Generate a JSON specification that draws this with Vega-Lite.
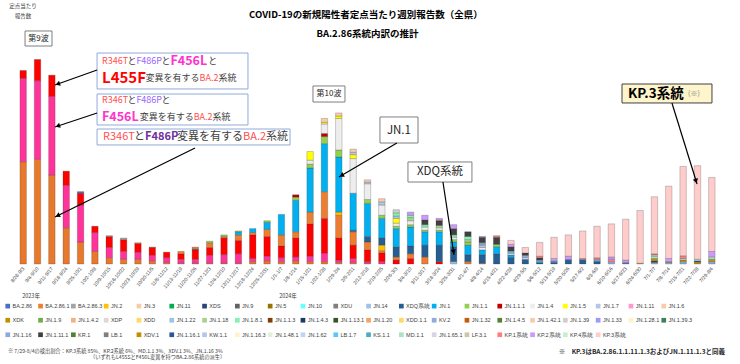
{
"$schema": "https://vega.github.io/schema/vega-lite/v6.json",
"autosize": {"type": "none"},
"padding": {"left": 16, "top": 28, "right": 21, "bottom": 100},
"width": 703,
"height": 236,
"background": "white",
"config": {"view": {"stroke": null}, "font": "Noto Sans CJK JP"},
"datasets": {
"lineages": [
{"l":"R346T+F486P","r":0},{"l":"R346T+F486P+F456L","r":1},{"l":"R346T+F486P+F456L+L455F","r":2},
{"l":"BA.2.86","r":3},{"l":"BA.2.86.1","r":4},{"l":"BA.2.86.3","r":5},{"l":"JN.2","r":6},{"l":"JN.3","r":7},{"l":"JN.11","r":8},{"l":"XDS","r":9},{"l":"JN.9","r":10},{"l":"JN.5","r":11},{"l":"JN.10","r":12},{"l":"XDU","r":13},{"l":"JN.14","r":14},{"l":"XDQ系統","r":15},{"l":"JN.1","r":16},{"l":"JN.1.1","r":17},{"l":"JN.1.1.1","r":18},{"l":"JN.1.4","r":19},{"l":"JN.1.5","r":20},{"l":"JN.1.7","r":21},{"l":"JN.1.11","r":22},{"l":"JN.1.6","r":23},
{"l":"XDK","r":24},{"l":"JN.1.9","r":25},{"l":"JN.1.4.2","r":26},{"l":"XDP","r":27},{"l":"XDD","r":28},{"l":"JN.1.22","r":29},{"l":"JN.1.18","r":30},{"l":"JN.1.8.1","r":31},{"l":"JN.1.1.3","r":32},{"l":"JN.1.4.3","r":33},{"l":"JN.1.13.1","r":34},{"l":"JN.1.20","r":35},{"l":"XDD.1.1","r":36},{"l":"KV.2","r":37},{"l":"JN.1.32","r":38},{"l":"JN.1.4.5","r":39},{"l":"JN.1.42.1","r":40},{"l":"JN.1.39","r":41},{"l":"JN.1.33","r":42},{"l":"JN.1.28.1","r":43},{"l":"JN.1.39.3","r":44},
{"l":"JN.1.16","r":45},{"l":"JN.1.11.1","r":46},{"l":"KR.1","r":47},{"l":"LB.1","r":48},{"l":"XDV.1","r":49},{"l":"JN.1.16.1","r":50},{"l":"KW.1.1","r":51},{"l":"JN.1.16.3","r":52},{"l":"JN.1.48.1","r":53},{"l":"JN.1.62","r":54},{"l":"LB.1.7","r":55},{"l":"KS.1.1","r":56},{"l":"MD.1.1","r":57},{"l":"JN.1.65.1","r":58},{"l":"LF.3.1","r":59},{"l":"KP.1系統","r":60},{"l":"KP.2系統","r":61},{"l":"KP.4系統","r":62},{"l":"KP.3系統","r":63}
],
"weekly": [
{"w":"8/28-9/3","l":"R346T+F486P","v":13.0},{"w":"8/28-9/3","l":"R346T+F486P+F456L","v":10.6},{"w":"8/28-9/3","l":"R346T+F486P+F456L+L455F","v":1.0},
{"w":"9/4-9/10","l":"R346T+F486P","v":13.3},{"w":"9/4-9/10","l":"R346T+F486P+F456L","v":10.0},{"w":"9/4-9/10","l":"R346T+F486P+F456L+L455F","v":2.7},
{"w":"9/11-9/17","l":"R346T+F486P","v":11.3},{"w":"9/11-9/17","l":"R346T+F486P+F456L","v":10.0},{"w":"9/11-9/17","l":"R346T+F486P+F456L+L455F","v":2.7},
{"w":"9/18-9/24","l":"R346T+F486P","v":4.6},{"w":"9/18-9/24","l":"R346T+F486P+F456L","v":5.4},{"w":"9/18-9/24","l":"R346T+F486P+F456L+L455F","v":1.8},
{"w":"9/25-10/1","l":"R346T+F486P","v":2.8},{"w":"9/25-10/1","l":"R346T+F486P+F456L","v":4.7},{"w":"9/25-10/1","l":"R346T+F486P+F456L+L455F","v":1.5},{"w":"9/25-10/1","l":"BA.2.86","v":0.2},
{"w":"10/2-10/8","l":"R346T+F486P","v":1.6},{"w":"10/2-10/8","l":"R346T+F486P+F456L","v":2.4},{"w":"10/2-10/8","l":"R346T+F486P+F456L+L455F","v":0.8},
{"w":"10/9-10/15","l":"R346T+F486P","v":0.8},{"w":"10/9-10/15","l":"R346T+F486P+F456L","v":1.3},{"w":"10/9-10/15","l":"R346T+F486P+F456L+L455F","v":1.4},{"w":"10/9-10/15","l":"BA.2.86.3","v":0.1},
{"w":"10/16-10/22","l":"R346T+F486P","v":0.6},{"w":"10/16-10/22","l":"R346T+F486P+F456L","v":1.0},{"w":"10/16-10/22","l":"R346T+F486P+F456L+L455F","v":1.5},{"w":"10/16-10/22","l":"BA.2.86.3","v":0.2},
{"w":"10/23-10/29","l":"R346T+F486P","v":0.6},{"w":"10/23-10/29","l":"R346T+F486P+F456L","v":0.9},{"w":"10/23-10/29","l":"R346T+F486P+F456L+L455F","v":1.1},{"w":"10/23-10/29","l":"BA.2.86.1","v":0.1},
{"w":"10/30-11/5","l":"R346T+F486P","v":0.4},{"w":"10/30-11/5","l":"R346T+F486P+F456L","v":0.7},{"w":"10/30-11/5","l":"R346T+F486P+F456L+L455F","v":1.0},{"w":"10/30-11/5","l":"BA.2.86.1","v":0.05},
{"w":"11/6-11/12","l":"R346T+F486P","v":0.2},{"w":"11/6-11/12","l":"R346T+F486P+F456L","v":0.6},{"w":"11/6-11/12","l":"R346T+F486P+F456L+L455F","v":0.7},
{"w":"11/13-11/19","l":"R346T+F486P","v":0.1},{"w":"11/13-11/19","l":"R346T+F486P+F456L","v":0.5},{"w":"11/13-11/19","l":"R346T+F486P+F456L+L455F","v":0.7},{"w":"11/13-11/19","l":"BA.2.86.1","v":0.3},
{"w":"11/20-11/26","l":"R346T+F486P","v":0.1},{"w":"11/20-11/26","l":"R346T+F486P+F456L","v":0.5},{"w":"11/20-11/26","l":"R346T+F486P+F456L+L455F","v":1.2},{"w":"11/20-11/26","l":"BA.2.86","v":0.1},{"w":"11/20-11/26","l":"BA.2.86.1","v":0.25},
{"w":"11/27-12/3","l":"R346T+F486P","v":0.1},{"w":"11/27-12/3","l":"R346T+F486P+F456L","v":1.0},{"w":"11/27-12/3","l":"R346T+F486P+F456L+L455F","v":1.0},{"w":"11/27-12/3","l":"BA.2.86.1","v":0.6},{"w":"11/27-12/3","l":"JN.1.1","v":0.2},
{"w":"12/4-12/10","l":"R346T+F486P","v":0.1},{"w":"12/4-12/10","l":"R346T+F486P+F456L","v":1.1},{"w":"12/4-12/10","l":"R346T+F486P+F456L+L455F","v":2.1},{"w":"12/4-12/10","l":"BA.2.86.1","v":0.2},{"w":"12/4-12/10","l":"JN.1.1","v":0.2},
{"w":"12/11-12/17","l":"R346T+F486P","v":0.1},{"w":"12/11-12/17","l":"R346T+F486P+F456L","v":1.2},{"w":"12/11-12/17","l":"R346T+F486P+F456L+L455F","v":1.7},{"w":"12/11-12/17","l":"BA.2.86.1","v":0.7},{"w":"12/11-12/17","l":"JN.1","v":0.4},{"w":"12/11-12/17","l":"JN.1.1","v":0.1},
{"w":"12/18-12/24","l":"R346T+F486P","v":0.3},{"w":"12/18-12/24","l":"R346T+F486P+F456L","v":0.4},{"w":"12/18-12/24","l":"R346T+F486P+F456L+L455F","v":3.0},{"w":"12/18-12/24","l":"BA.2.86.1","v":0.3},{"w":"12/18-12/24","l":"JN.1","v":0.5},
{"w":"12/25-12/31","l":"R346T+F486P","v":0.4},{"w":"12/25-12/31","l":"R346T+F486P+F456L","v":0.6},{"w":"12/25-12/31","l":"R346T+F486P+F456L+L455F","v":2.5},{"w":"12/25-12/31","l":"BA.2.86.1","v":0.9},{"w":"12/25-12/31","l":"JN.1","v":0.9},{"w":"12/25-12/31","l":"JN.1.1","v":0.2},
{"w":"1/1-1/7","l":"R346T+F486P","v":0.3},{"w":"1/1-1/7","l":"R346T+F486P+F456L","v":0.5},{"w":"1/1-1/7","l":"R346T+F486P+F456L+L455F","v":1.5},{"w":"1/1-1/7","l":"BA.2.86.1","v":1.4},{"w":"1/1-1/7","l":"JN.1","v":2.6},
{"w":"1/8-1/14","l":"R346T+F486P","v":0.4},{"w":"1/8-1/14","l":"R346T+F486P+F456L","v":0.5},{"w":"1/8-1/14","l":"R346T+F486P+F456L+L455F","v":2.4},{"w":"1/8-1/14","l":"BA.2.86.1","v":0.8},{"w":"1/8-1/14","l":"JN.1","v":4.0},{"w":"1/8-1/14","l":"JN.1.1","v":0.4},{"w":"1/8-1/14","l":"JN.1.1.1","v":0.3},
{"w":"1/15-1/21","l":"R346T+F486P","v":0.3},{"w":"1/15-1/21","l":"R346T+F486P+F456L","v":0.7},{"w":"1/15-1/21","l":"R346T+F486P+F456L+L455F","v":4.1},{"w":"1/15-1/21","l":"BA.2.86.1","v":1.5},{"w":"1/15-1/21","l":"JN.1","v":5.6},{"w":"1/15-1/21","l":"JN.1.1","v":0.5},{"w":"1/15-1/21","l":"JN.1.4","v":0.5},{"w":"1/15-1/21","l":"JN.1.5","v":1.1},
{"w":"1/22-1/28","l":"R346T+F486P","v":0.3},{"w":"1/22-1/28","l":"R346T+F486P+F456L","v":1.1},{"w":"1/22-1/28","l":"R346T+F486P+F456L+L455F","v":4.4},{"w":"1/22-1/28","l":"BA.2.86.1","v":3.4},{"w":"1/22-1/28","l":"JN.1","v":6.1},{"w":"1/22-1/28","l":"JN.1.1","v":0.9},{"w":"1/22-1/28","l":"JN.1.1.1","v":0.4},{"w":"1/22-1/28","l":"JN.1.4","v":1.2},{"w":"1/22-1/28","l":"JN.1.5","v":0.2},{"w":"1/22-1/28","l":"JN.1.6","v":0.5},
{"w":"1/29-2/4","l":"R346T+F486P","v":0.2},{"w":"1/29-2/4","l":"R346T+F486P+F456L","v":0.3},{"w":"1/29-2/4","l":"R346T+F486P+F456L+L455F","v":2.8},{"w":"1/29-2/4","l":"BA.2.86.1","v":2.9},{"w":"1/29-2/4","l":"JN.2","v":0.4},{"w":"1/29-2/4","l":"JN.1","v":7.0},{"w":"1/29-2/4","l":"JN.1.1","v":0.9},{"w":"1/29-2/4","l":"JN.1.4","v":4.0},{"w":"1/29-2/4","l":"JN.1.5","v":0.3},{"w":"1/29-2/4","l":"JN.1.6","v":0.4},
{"w":"2/5-2/11","l":"R346T+F486P","v":0.2},{"w":"2/5-2/11","l":"R346T+F486P+F456L","v":0.5},{"w":"2/5-2/11","l":"R346T+F486P+F456L+L455F","v":1.7},{"w":"2/5-2/11","l":"BA.2.86.1","v":1.7},{"w":"2/5-2/11","l":"XDQ系統","v":0.2},{"w":"2/5-2/11","l":"JN.1","v":4.7},{"w":"2/5-2/11","l":"JN.1.4","v":4.4},{"w":"2/5-2/11","l":"JN.1.5","v":0.5},{"w":"2/5-2/11","l":"JN.1.7","v":0.3},{"w":"2/5-2/11","l":"JN.1.6","v":0.4},
{"w":"2/12-2/18","l":"R346T+F486P","v":0.1},{"w":"2/12-2/18","l":"R346T+F486P+F456L","v":0.2},{"w":"2/12-2/18","l":"R346T+F486P+F456L+L455F","v":1.5},{"w":"2/12-2/18","l":"BA.2.86.1","v":1.0},{"w":"2/12-2/18","l":"XDQ系統","v":0.7},{"w":"2/12-2/18","l":"JN.1","v":4.2},{"w":"2/12-2/18","l":"JN.1.1","v":0.5},{"w":"2/12-2/18","l":"JN.1.4","v":2.0},{"w":"2/12-2/18","l":"JN.1.7","v":0.2},{"w":"2/12-2/18","l":"JN.1.6","v":0.3},
{"w":"2/19-2/25","l":"R346T+F486P+F456L","v":0.3},{"w":"2/19-2/25","l":"R346T+F486P+F456L+L455F","v":1.1},{"w":"2/19-2/25","l":"BA.2.86.1","v":0.3},{"w":"2/19-2/25","l":"JN.2","v":0.7},{"w":"2/19-2/25","l":"XDQ系統","v":0.9},{"w":"2/19-2/25","l":"JN.1","v":2.5},{"w":"2/19-2/25","l":"JN.1.1","v":0.4},{"w":"2/19-2/25","l":"JN.1.4","v":1.3},{"w":"2/19-2/25","l":"JN.1.7","v":0.4},{"w":"2/19-2/25","l":"JN.1.6","v":0.4},
{"w":"2/26-3/3","l":"R346T+F486P+F456L+L455F","v":0.5},{"w":"2/26-3/3","l":"BA.2.86.1","v":0.4},{"w":"2/26-3/3","l":"XDQ系統","v":1.3},{"w":"2/26-3/3","l":"JN.1","v":2.3},{"w":"2/26-3/3","l":"JN.1.1","v":0.3},{"w":"2/26-3/3","l":"JN.1.4","v":0.4},{"w":"2/26-3/3","l":"JN.1.5","v":0.6},{"w":"2/26-3/3","l":"JN.1.7","v":0.3},{"w":"2/26-3/3","l":"JN.1.8.1","v":0.4},{"w":"2/26-3/3","l":"JN.1.39","v":0.4},
{"w":"3/4-3/10","l":"R346T+F486P+F456L+L455F","v":0.7},{"w":"3/4-3/10","l":"BA.2.86.1","v":0.6},{"w":"3/4-3/10","l":"XDQ系統","v":1.0},{"w":"3/4-3/10","l":"JN.1","v":2.4},{"w":"3/4-3/10","l":"JN.1.1","v":0.3},{"w":"3/4-3/10","l":"JN.1.4","v":0.5},{"w":"3/4-3/10","l":"JN.1.18","v":0.4},{"w":"3/4-3/10","l":"JN.1.8.1","v":0.3},{"w":"3/4-3/10","l":"KP.2系統","v":0.4},
{"w":"3/11-3/17","l":"BA.2.86.1","v":0.9},{"w":"3/11-3/17","l":"XDQ系統","v":1.5},{"w":"3/11-3/17","l":"JN.1","v":1.7},{"w":"3/11-3/17","l":"JN.1.1","v":0.2},{"w":"3/11-3/17","l":"JN.1.4","v":0.4},{"w":"3/11-3/17","l":"JN.1.8.1","v":0.3},{"w":"3/11-3/17","l":"JN.1.11.1","v":0.6},{"w":"3/11-3/17","l":"KP.2系統","v":0.6},
{"w":"3/18-3/24","l":"R346T+F486P+F456L+L455F","v":0.3},{"w":"3/18-3/24","l":"XDQ系統","v":2.1},{"w":"3/18-3/24","l":"JN.1","v":1.7},{"w":"3/18-3/24","l":"JN.1.1","v":0.2},{"w":"3/18-3/24","l":"JN.1.4","v":0.3},{"w":"3/18-3/24","l":"JN.1.18","v":0.3},{"w":"3/18-3/24","l":"JN.1.11.1","v":0.6},{"w":"3/18-3/24","l":"KP.1系統","v":0.1},{"w":"3/18-3/24","l":"KP.2系統","v":0.2},
{"w":"3/25-3/31","l":"JN.14","v":0.3},{"w":"3/25-3/31","l":"XDQ系統","v":1.9},{"w":"3/25-3/31","l":"JN.1","v":0.6},{"w":"3/25-3/31","l":"JN.1.1","v":0.3},{"w":"3/25-3/31","l":"JN.1.4","v":0.3},{"w":"3/25-3/31","l":"JN.1.8.1","v":0.3},{"w":"3/25-3/31","l":"JN.1.11.1","v":0.8},{"w":"3/25-3/31","l":"KP.2系統","v":0.5},
{"w":"4/1-4/7","l":"BA.2.86.1","v":0.3},{"w":"4/1-4/7","l":"XDQ系統","v":0.9},{"w":"4/1-4/7","l":"JN.1","v":1.2},{"w":"4/1-4/7","l":"JN.1.1","v":0.4},{"w":"4/1-4/7","l":"JN.1.18","v":0.3},{"w":"4/1-4/7","l":"JN.1.8.1","v":0.4},{"w":"4/1-4/7","l":"JN.1.11.1","v":0.6},
{"w":"4/8-4/14","l":"BA.2.86.1","v":0.1},{"w":"4/8-4/14","l":"XDQ系統","v":1.1},{"w":"4/8-4/14","l":"JN.1","v":0.6},{"w":"4/8-4/14","l":"JN.1.4","v":0.3},{"w":"4/8-4/14","l":"JN.1.7","v":0.3},{"w":"4/8-4/14","l":"JN.1.16","v":0.3},{"w":"4/8-4/14","l":"JN.1.11.1","v":0.7},{"w":"4/8-4/14","l":"KP.2系統","v":0.1},
{"w":"4/15-4/21","l":"XDQ系統","v":1.3},{"w":"4/15-4/21","l":"JN.1","v":0.9},{"w":"4/15-4/21","l":"JN.1.1","v":0.3},{"w":"4/15-4/21","l":"JN.1.11.1","v":0.9},{"w":"4/15-4/21","l":"KP.1系統","v":0.2},
{"w":"4/22-4/28","l":"XDQ系統","v":0.85},{"w":"4/22-4/28","l":"JN.1","v":0.3},{"w":"4/22-4/28","l":"JN.1.4","v":0.2},{"w":"4/22-4/28","l":"JN.1.16","v":0.3},{"w":"4/22-4/28","l":"JN.1.11.1","v":0.55},{"w":"4/22-4/28","l":"KP.2系統","v":0.3},{"w":"4/22-4/28","l":"KP.3系統","v":0.5},
{"w":"4/29-5/5","l":"XDQ系統","v":0.6},{"w":"4/29-5/5","l":"JN.1.4","v":0.2},{"w":"4/29-5/5","l":"JN.1.16","v":0.3},{"w":"4/29-5/5","l":"JN.1.11.1","v":0.3},{"w":"4/29-5/5","l":"KP.3系統","v":0.7},
{"w":"5/6-5/12","l":"XDQ系統","v":0.15},{"w":"5/6-5/12","l":"JN.1","v":0.15},{"w":"5/6-5/12","l":"JN.1.16","v":0.2},{"w":"5/6-5/12","l":"JN.1.11.1","v":0.3},{"w":"5/6-5/12","l":"KP.1系統","v":0.2},{"w":"5/6-5/12","l":"KP.3系統","v":1.75},
{"w":"5/13-5/19","l":"XDQ系統","v":0.2},{"w":"5/13-5/19","l":"JN.1","v":0.1},{"w":"5/13-5/19","l":"JN.1.16","v":0.1},{"w":"5/13-5/19","l":"KP.2系統","v":0.3},{"w":"5/13-5/19","l":"KP.3系統","v":2.7},
{"w":"5/20-5/26","l":"XDQ系統","v":0.5},{"w":"5/20-5/26","l":"JN.1.16","v":0.1},{"w":"5/20-5/26","l":"KP.2系統","v":0.4},{"w":"5/20-5/26","l":"KP.3系統","v":2.7},
{"w":"5/27-6/2","l":"XDQ系統","v":0.5},{"w":"5/27-6/2","l":"JN.1.16","v":0.1},{"w":"5/27-6/2","l":"KP.1系統","v":0.1},{"w":"5/27-6/2","l":"KP.3系統","v":3.5},
{"w":"6/3-6/9","l":"XDQ系統","v":0.3},{"w":"6/3-6/9","l":"JN.1","v":0.1},{"w":"6/3-6/9","l":"JN.1.16","v":0.2},{"w":"6/3-6/9","l":"KP.1系統","v":0.2},{"w":"6/3-6/9","l":"KP.3系統","v":4.0},
{"w":"6/10-6/16","l":"JN.1.16","v":0.3},{"w":"6/10-6/16","l":"KP.1系統","v":0.3},{"w":"6/10-6/16","l":"KP.2系統","v":0.3},{"w":"6/10-6/16","l":"KP.3系統","v":4.2},
{"w":"6/17-6/23","l":"XDQ系統","v":0.1},{"w":"6/17-6/23","l":"JN.1.16","v":0.1},{"w":"6/17-6/23","l":"KP.2系統","v":0.3},{"w":"6/17-6/23","l":"KP.3系統","v":5.2},
{"w":"6/24-6/30","l":"XDV.1","v":0.1},{"w":"6/24-6/30","l":"KP.3系統","v":6.7},
{"w":"7/1-7/7","l":"JN.1.16","v":0.2},{"w":"7/1-7/7","l":"JN.1.11.1","v":0.2},{"w":"7/1-7/7","l":"XDV.1","v":0.3},{"w":"7/1-7/7","l":"MD.1.1","v":0.3},{"w":"7/1-7/7","l":"LF.3.1","v":0.2},{"w":"7/1-7/7","l":"KP.1系統","v":0.1},{"w":"7/1-7/7","l":"KP.3系統","v":7.25},
{"w":"7/8-7/14","l":"JN.1.16","v":0.2},{"w":"7/8-7/14","l":"XDV.1","v":0.1},{"w":"7/8-7/14","l":"KP.2系統","v":0.4},{"w":"7/8-7/14","l":"KP.3系統","v":9.2},
{"w":"7/15-7/21","l":"JN.1.16","v":0.3},{"w":"7/15-7/21","l":"XDV.1","v":0.2},{"w":"7/15-7/21","l":"MD.1.1","v":0.2},{"w":"7/15-7/21","l":"KP.1系統","v":0.35},{"w":"7/15-7/21","l":"KP.3系統","v":11.35},
{"w":"7/22-7/28","l":"JN.1.16.1","v":0.2},{"w":"7/22-7/28","l":"XDV.1","v":0.2},{"w":"7/22-7/28","l":"MD.1.1","v":0.2},{"w":"7/22-7/28","l":"KP.3系統","v":11.9},
{"w":"7/29-8/4","l":"JN.1.16","v":0.3},{"w":"7/29-8/4","l":"XDV.1","v":0.3},{"w":"7/29-8/4","l":"MD.1.1","v":0.3},{"w":"7/29-8/4","l":"KP.2系統","v":0.7},{"w":"7/29-8/4","l":"KP.3系統","v":9.4}
]
},
"layer": [
{
"data": {"name": "weekly"},
"transform": [{"lookup": "l", "from": {"data": {"name": "lineages"}, "key": "l", "fields": ["r"]}}],
"mark": {"type": "bar", "stroke": "#333333", "strokeWidth": 0.4, "strokeOpacity": 0.6},
"encoding": {
"x": {"field": "w", "type": "nominal", "sort": null, "scale": {"paddingInner": 0.55, "paddingOuter": 0.275},
"axis": {"title": null, "labelAngle": -50, "labelFontSize": 5, "labelFont": "Liberation Sans", "labelColor": "#404040", "ticks": false, "domain": false, "labelPadding": 3}},
"y": {"field": "v", "type": "quantitative", "stack": "zero", "scale": {"domain": [0, 30], "nice": false},
"axis": {"title": null, "values": [0,5,10,15,20,25,30], "grid": true, "gridColor": "#D9D9D9", "gridWidth": 0.8, "domain": false, "ticks": false, "labelFontSize": 7, "labelFont": "Liberation Sans", "labelColor": "#404040", "labelPadding": 4}},
"order": {"field": "r", "type": "quantitative", "sort": "ascending"},
"color": {"field": "l", "type": "nominal",
"scale": {
"domain": ["R346T+F486P","R346T+F486P+F456L","R346T+F486P+F456L+L455F","BA.2.86","BA.2.86.1","BA.2.86.3","JN.2","JN.3","JN.11","XDS","JN.9","JN.5","JN.10","XDU","JN.14","XDQ系統","JN.1","JN.1.1","JN.1.1.1","JN.1.4","JN.1.5","JN.1.7","JN.1.11","JN.1.6","XDK","JN.1.9","JN.1.4.2","XDP","XDD","JN.1.22","JN.1.18","JN.1.8.1","JN.1.1.3","JN.1.4.3","JN.1.13.1","JN.1.20","XDD.1.1","KV.2","JN.1.32","JN.1.4.5","JN.1.42.1","JN.1.39","JN.1.33","JN.1.28.1","JN.1.39.3","JN.1.16","JN.1.11.1","KR.1","LB.1","XDV.1","JN.1.16.1","KW.1.1","JN.1.16.3","JN.1.48.1","JN.1.62","LB.1.7","KS.1.1","MD.1.1","JN.1.65.1","LF.3.1","KP.1系統","KP.2系統","KP.4系統","KP.3系統"],
"range": ["#E8782C","#FF3399","#FF0000","#4472C4","#ED7D31","#A5A5A5","#FFC000","#F8CBAD","#00B050","#264478","#636363","#997300","#66FFFF","#7F7F7F","#9DC3E6","#255E91","#00B0F0","#92D050","#C00000","#EDEDED","#FFFF00","#B4C7E7","#FF99CC","#F8CBAD","#BF9000","#70AD47","#F4B183","#D9D9D9","#FFD966","#9DC3E6","#A9D18E","#7FF5B0","#843C0C","#1F3864","#375623","#F4A460","#FFD966","#8FAADC","#C55A11","#548235","#F8CBAD","#D0CECE","#9999FF","#FFF2CC","#3F7F5F","#8EA9DB","#404040","#548235","#7F7F7F","#BF8F00","#2F5597","#B4C7E7","#FFF2CC","#E2F0D9","#BDD7EE","#5BC8F5","#4BACC6","#A9E2C4","#D9D2E9","#C9C9A9","#FF7C80","#CC99FF","#C6EFCE","#FFCCCC"]},
"legend": {"title": null, "orient": "none", "legendX": -11, "legendY": 275, "columns": 21, "direction": "horizontal", "symbolLimit": 100,
"values": ["BA.2.86","BA.2.86.1","BA.2.86.3","JN.2","JN.3","JN.11","XDS","JN.9","JN.5","JN.10","XDU","JN.14","XDQ系統","JN.1","JN.1.1","JN.1.1.1","JN.1.4","JN.1.5","JN.1.7","JN.1.11","JN.1.6","XDK","JN.1.9","JN.1.4.2","XDP","XDD","JN.1.22","JN.1.18","JN.1.8.1","JN.1.1.3","JN.1.4.3","JN.1.13.1","JN.1.20","XDD.1.1","KV.2","JN.1.32","JN.1.4.5","JN.1.42.1","JN.1.39","JN.1.33","JN.1.28.1","JN.1.39.3","JN.1.16","JN.1.11.1","KR.1","LB.1","XDV.1","JN.1.16.1","KW.1.1","JN.1.16.3","JN.1.48.1","JN.1.62","LB.1.7","KS.1.1","MD.1.1","JN.1.65.1","LF.3.1","KP.1系統","KP.2系統","KP.4系統","KP.3系統"],
"symbolType": "square", "symbolSize": 22, "symbolStrokeWidth": 0, "labelFontSize": 5.5, "labelFont": "Liberation Sans", "labelColor": "#404040", "labelOffset": 2, "rowPadding": 7.5, "columnPadding": 0.8, "gridAlign": "all", "labelLimit": 40, "padding": 0}}
}
},
{
"layer": [
{"data": {"values": [{"x":5.15,"x2":15.67,"y":26.82,"y2":22.25},{"x":5.15,"x2":15.67,"y":21.61,"y2":17.67},{"x":5.15,"x2":18.60,"y":17.16,"y2":15.13}]},
"mark": {"type": "rect", "fill": "white", "stroke": "#8FAADC", "strokeWidth": 1},
"encoding": {"x": {"field":"x","type":"quantitative","scale":{"domain":[-0.5,48.5],"nice":false,"zero":false},"axis":null},"x2":{"field":"x2"},"y":{"field":"y","type":"quantitative","scale":{"domain":[0,30],"nice":false},"axis":null},"y2":{"field":"y2"}}},
{"data": {"values": [{"x":0.13,"x2":2.01,"y":29.62,"y2":27.71},{"x":20.20,"x2":22.43,"y":22.63,"y2":20.59},{"x":24.87,"x2":27.52,"y":18.69,"y2":15.38},{"x":26.82,"x2":31.28,"y":12.97,"y2":10.42}]},
"mark": {"type": "rect", "fill": "white", "stroke": "#7F7F7F", "strokeWidth": 1},
"encoding": {"x": {"field":"x","type":"quantitative","scale":{"domain":[-0.5,48.5],"nice":false,"zero":false},"axis":null},"x2":{"field":"x2"},"y":{"field":"y","type":"quantitative","scale":{"domain":[0,30],"nice":false},"axis":null},"y2":{"field":"y2"}}},
{"data": {"values": [{"x":41.74,"x2":48.01,"y":22.88,"y2":20.47}]},
"mark": {"type": "rect", "fill": "#FFF5CC", "stroke": "#404040", "strokeWidth": 1},
"encoding": {"x": {"field":"x","type":"quantitative","scale":{"domain":[-0.5,48.5],"nice":false,"zero":false},"axis":null},"x2":{"field":"x2"},"y":{"field":"y","type":"quantitative","scale":{"domain":[0,30],"nice":false},"axis":null},"y2":{"field":"y2"}}},
{"data": {"values": [{"x":5.15,"y":24.66,"x2":2.22,"y2":22.75},{"x":5.15,"y":19.19,"x2":2.22,"y2":17.42},{"x":11.98,"y":14.75,"x2":2.22,"y2":5.97},{"x":26.05,"y":15.38,"x2":22.01,"y2":11.06},{"x":29.26,"y":10.42,"x2":30.03,"y2":1.14},{"x":45.22,"y":20.47,"x2":46.97,"y2":10.17}]},
"mark": {"type": "rule", "color": "black", "strokeWidth": 1.2},
"encoding": {"x": {"field":"x","type":"quantitative","scale":{"domain":[-0.5,48.5],"nice":false,"zero":false},"axis":null},"x2":{"field":"x2"},"y":{"field":"y","type":"quantitative","scale":{"domain":[0,30],"nice":false},"axis":null},"y2":{"field":"y2"}}},
{"data": {"values": [{"x":2.41,"y":22.88}]}, "mark": {"type":"point","shape":"triangle-up","filled":true,"color":"black","opacity":1,"size":28,"angle":250},
"encoding": {"x": {"field":"x","type":"quantitative","scale":{"domain":[-0.5,48.5],"nice":false,"zero":false},"axis":null},"y":{"field":"y","type":"quantitative","scale":{"domain":[0,30],"nice":false},"axis":null}}},
{"data": {"values": [{"x":2.41,"y":17.54}]}, "mark": {"type":"point","shape":"triangle-up","filled":true,"color":"black","opacity":1,"size":28,"angle":252},
"encoding": {"x": {"field":"x","type":"quantitative","scale":{"domain":[-0.5,48.5],"nice":false,"zero":false},"axis":null},"y":{"field":"y","type":"quantitative","scale":{"domain":[0,30],"nice":false},"axis":null}}},
{"data": {"values": [{"x":2.40,"y":6.14}]}, "mark": {"type":"point","shape":"triangle-up","filled":true,"color":"black","opacity":1,"size":28,"angle":244},
"encoding": {"x": {"field":"x","type":"quantitative","scale":{"domain":[-0.5,48.5],"nice":false,"zero":false},"axis":null},"y":{"field":"y","type":"quantitative","scale":{"domain":[0,30],"nice":false},"axis":null}}},
{"data": {"values": [{"x":22.19,"y":11.25}]}, "mark": {"type":"point","shape":"triangle-up","filled":true,"color":"black","opacity":1,"size":28,"angle":240},
"encoding": {"x": {"field":"x","type":"quantitative","scale":{"domain":[-0.5,48.5],"nice":false,"zero":false},"axis":null},"y":{"field":"y","type":"quantitative","scale":{"domain":[0,30],"nice":false},"axis":null}}},
{"data": {"values": [{"x":30.0,"y":1.53}]}, "mark": {"type":"point","shape":"triangle-up","filled":true,"color":"black","opacity":1,"size":28,"angle":171},
"encoding": {"x": {"field":"x","type":"quantitative","scale":{"domain":[-0.5,48.5],"nice":false,"zero":false},"axis":null},"y":{"field":"y","type":"quantitative","scale":{"domain":[0,30],"nice":false},"axis":null}}},
{"data": {"values": [{"x":46.9,"y":10.54}]}, "mark": {"type":"point","shape":"triangle-up","filled":true,"color":"black","opacity":1,"size":28,"angle":163},
"encoding": {"x": {"field":"x","type":"quantitative","scale":{"domain":[-0.5,48.5],"nice":false,"zero":false},"axis":null},"y":{"field":"y","type":"quantitative","scale":{"domain":[0,30],"nice":false},"axis":null}}},
{"data": {"values": [{"x":5.494,"y":25.80,"t":"R346T"},{"x":12.297,"y":23.62,"t":"BA.2"},{"x":5.494,"y":20.85,"t":"R346T"},{"x":11.886,"y":18.68,"t":"BA.2"}]},
"mark": {"type":"text","align":"left","baseline":"middle","fontSize":9,"color":"#FF5050"},
"encoding": {"x": {"field":"x","type":"quantitative","scale":{"domain":[-0.5,48.5],"nice":false,"zero":false},"axis":null},"y":{"field":"y","type":"quantitative","scale":{"domain":[0,30],"nice":false},"axis":null},"text":{"field":"t"}}},
{"data": {"values": [{"x":7.265,"y":25.80,"t":"と"},{"x":9.642,"y":25.80,"t":"と"},{"x":12.897,"y":25.80,"t":"と"},{"x":8.533,"y":23.62,"t":"変異を有する"},{"x":13.614,"y":23.62,"t":"系統"},{"x":7.265,"y":20.85,"t":"と"},{"x":9.642,"y":20.85,"t":"と"},{"x":8.122,"y":18.68,"t":"変異を有する"},{"x":13.203,"y":18.68,"t":"系統"}]},
"mark": {"type":"text","align":"left","baseline":"middle","fontSize":9,"color":"#404040"},
"encoding": {"x": {"field":"x","type":"quantitative","scale":{"domain":[-0.5,48.5],"nice":false,"zero":false},"axis":null},"y":{"field":"y","type":"quantitative","scale":{"domain":[0,30],"nice":false},"axis":null},"text":{"field":"t"}}},
{"data": {"values": [{"x":7.892,"y":25.80,"t":"F486P"},{"x":7.892,"y":20.85,"t":"F486P"}]},
"mark": {"type":"text","align":"left","baseline":"middle","fontSize":9,"color":"#9966FF"},
"encoding": {"x": {"field":"x","type":"quantitative","scale":{"domain":[-0.5,48.5],"nice":false,"zero":false},"axis":null},"y":{"field":"y","type":"quantitative","scale":{"domain":[0,30],"nice":false},"axis":null},"text":{"field":"t"}}},
{"data": {"values": [{"x":10.269,"y":25.80,"t":"F456L"},{"x":5.494,"y":18.68,"t":"F456L"}]},
"mark": {"type":"text","align":"left","baseline":"middle","fontSize":12.5,"fontWeight":"bold","color":"#FF33CC"},
"encoding": {"x": {"field":"x","type":"quantitative","scale":{"domain":[-0.5,48.5],"nice":false,"zero":false},"axis":null},"y":{"field":"y","type":"quantitative","scale":{"domain":[0,30],"nice":false},"axis":null},"text":{"field":"t"}}},
{"data": {"values": [{"x":5.494,"y":23.62,"t":"L455F"}]},
"mark": {"type":"text","align":"left","baseline":"middle","fontSize":15,"fontWeight":"bold","color":"#FF0000"},
"encoding": {"x": {"field":"x","type":"quantitative","scale":{"domain":[-0.5,48.5],"nice":false,"zero":false},"axis":null},"y":{"field":"y","type":"quantitative","scale":{"domain":[0,30],"nice":false},"axis":null},"text":{"field":"t"}}},
{"data": {"values": [{"x":5.564,"y":16.14,"t":"R346T"},{"x":15.322,"y":16.14,"t":"BA.2"}]},
"mark": {"type":"text","align":"left","baseline":"middle","fontSize":11,"color":"#FF5050"},
"encoding": {"x": {"field":"x","type":"quantitative","scale":{"domain":[-0.5,48.5],"nice":false,"zero":false},"axis":null},"y":{"field":"y","type":"quantitative","scale":{"domain":[0,30],"nice":false},"axis":null},"text":{"field":"t"}}},
{"data": {"values": [{"x":7.725,"y":16.14,"t":"と"},{"x":10.722,"y":16.14,"t":"変異を有する"},{"x":16.926,"y":16.14,"t":"系統"}]},
"mark": {"type":"text","align":"left","baseline":"middle","fontSize":11,"color":"#404040"},
"encoding": {"x": {"field":"x","type":"quantitative","scale":{"domain":[-0.5,48.5],"nice":false,"zero":false},"axis":null},"y":{"field":"y","type":"quantitative","scale":{"domain":[0,30],"nice":false},"axis":null},"text":{"field":"t"}}},
{"data": {"values": [{"x":8.492,"y":16.14,"t":"F486P"}]},
"mark": {"type":"text","align":"left","baseline":"middle","fontSize":11,"fontWeight":"bold","color":"#7030A0"},
"encoding": {"x": {"field":"x","type":"quantitative","scale":{"domain":[-0.5,48.5],"nice":false,"zero":false},"axis":null},"y":{"field":"y","type":"quantitative","scale":{"domain":[0,30],"nice":false},"axis":null},"text":{"field":"t"}}},
{"data": {"values": [{"x":1.07,"y":28.60,"t":"第9波"},{"x":21.32,"y":21.61,"t":"第10波"}]},
"mark": {"type":"text","align":"center","baseline":"middle","fontSize":8,"color":"#262626"},
"encoding": {"x": {"field":"x","type":"quantitative","scale":{"domain":[-0.5,48.5],"nice":false,"zero":false},"axis":null},"y":{"field":"y","type":"quantitative","scale":{"domain":[0,30],"nice":false},"axis":null},"text":{"field":"t"}}},
{"data": {"values": [{"x":26.19,"y":16.91,"t":"JN.1"},{"x":29.05,"y":11.69,"t":"XDQ系統"}]},
"mark": {"type":"text","align":"center","baseline":"middle","fontSize":11.5,"color":"#262626"},
"encoding": {"x": {"field":"x","type":"quantitative","scale":{"domain":[-0.5,48.5],"nice":false,"zero":false},"axis":null},"y":{"field":"y","type":"quantitative","scale":{"domain":[0,30],"nice":false},"axis":null},"text":{"field":"t"}}},
{"data": {"values": [{"x":42.16,"y":21.67,"t":"KP.3系統"}]},
"mark": {"type":"text","align":"left","baseline":"middle","fontSize":13.5,"fontWeight":"bold","color":"#000000"},
"encoding": {"x": {"field":"x","type":"quantitative","scale":{"domain":[-0.5,48.5],"nice":false,"zero":false},"axis":null},"y":{"field":"y","type":"quantitative","scale":{"domain":[0,30],"nice":false},"axis":null},"text":{"field":"t"}}},
{"data": {"values": [{"x":46.34,"y":21.55,"t":"(※)"}]},
"mark": {"type":"text","align":"left","baseline":"middle","fontSize":7,"color":"#7F7F7F"},
"encoding": {"x": {"field":"x","type":"quantitative","scale":{"domain":[-0.5,48.5],"nice":false,"zero":false},"axis":null},"y":{"field":"y","type":"quantitative","scale":{"domain":[0,30],"nice":false},"axis":null},"text":{"field":"t"}}},
{"data": {"values": [{"x":23.89,"y":31.67,"t":"COVID-19の新規陽性者定点当たり週別報告数（全県）"},{"x":24.0,"y":29.24,"t":"BA.2.86系統内訳の推計"}]},
"mark": {"type":"text","align":"center","baseline":"middle","fontSize":9.5,"fontWeight":"bold","color":"#000000"},
"encoding": {"x": {"field":"x","type":"quantitative","scale":{"domain":[-0.5,48.5],"nice":false,"zero":false},"axis":null},"y":{"field":"y","type":"quantitative","scale":{"domain":[0,30],"nice":false},"axis":null},"text":{"field":"t"}}},
{"data": {"values": [{"x":-0.01,"y":32.8,"t":"定点当たり"},{"x":-0.01,"y":31.53,"t":"報告数"},{"x":0.55,"y":-4.07,"t":"2023年"},{"x":18.46,"y":-4.07,"t":"2024年"}]},
"mark": {"type":"text","align":"center","baseline":"middle","fontSize":5.5,"color":"#404040"},
"encoding": {"x": {"field":"x","type":"quantitative","scale":{"domain":[-0.5,48.5],"nice":false,"zero":false},"axis":null},"y":{"field":"y","type":"quantitative","scale":{"domain":[0,30],"nice":false},"axis":null},"text":{"field":"t"}}},
{"data": {"values": [{"x":-1.057,"y":-11.06,"t":"※ 7/29-8/4の検出割合：KP.3系統  85%、KP.2系統  6%、MD.1.1  3%、XDV.1  3%、JN.1.16  3%"},{"x":4.66,"y":-11.82,"t":"（いずれもL455SとF456L変異を持つBA.2.86系統の派生）"}]},
"mark": {"type":"text","align":"left","baseline":"middle","fontSize":5.2,"color":"#404040"},
"encoding": {"x": {"field":"x","type":"quantitative","scale":{"domain":[-0.5,48.5],"nice":false,"zero":false},"axis":null},"y":{"field":"y","type":"quantitative","scale":{"domain":[0,30],"nice":false},"axis":null},"text":{"field":"t"}}},
{"data": {"values": [{"x":48.92,"y":-11.19,"t":"※　KP.3はBA.2.86.1.1.11.1.3およびJN.1.11.1.3と同義"}]},
"mark": {"type":"text","align":"right","baseline":"middle","fontSize":6.5,"fontWeight":"bold","color":"#262626"},
"encoding": {"x": {"field":"x","type":"quantitative","scale":{"domain":[-0.5,48.5],"nice":false,"zero":false},"axis":null},"y":{"field":"y","type":"quantitative","scale":{"domain":[0,30],"nice":false},"axis":null},"text":{"field":"t"}}}
]
}
],
"resolve": {"scale": {"x": "independent"}}
}
